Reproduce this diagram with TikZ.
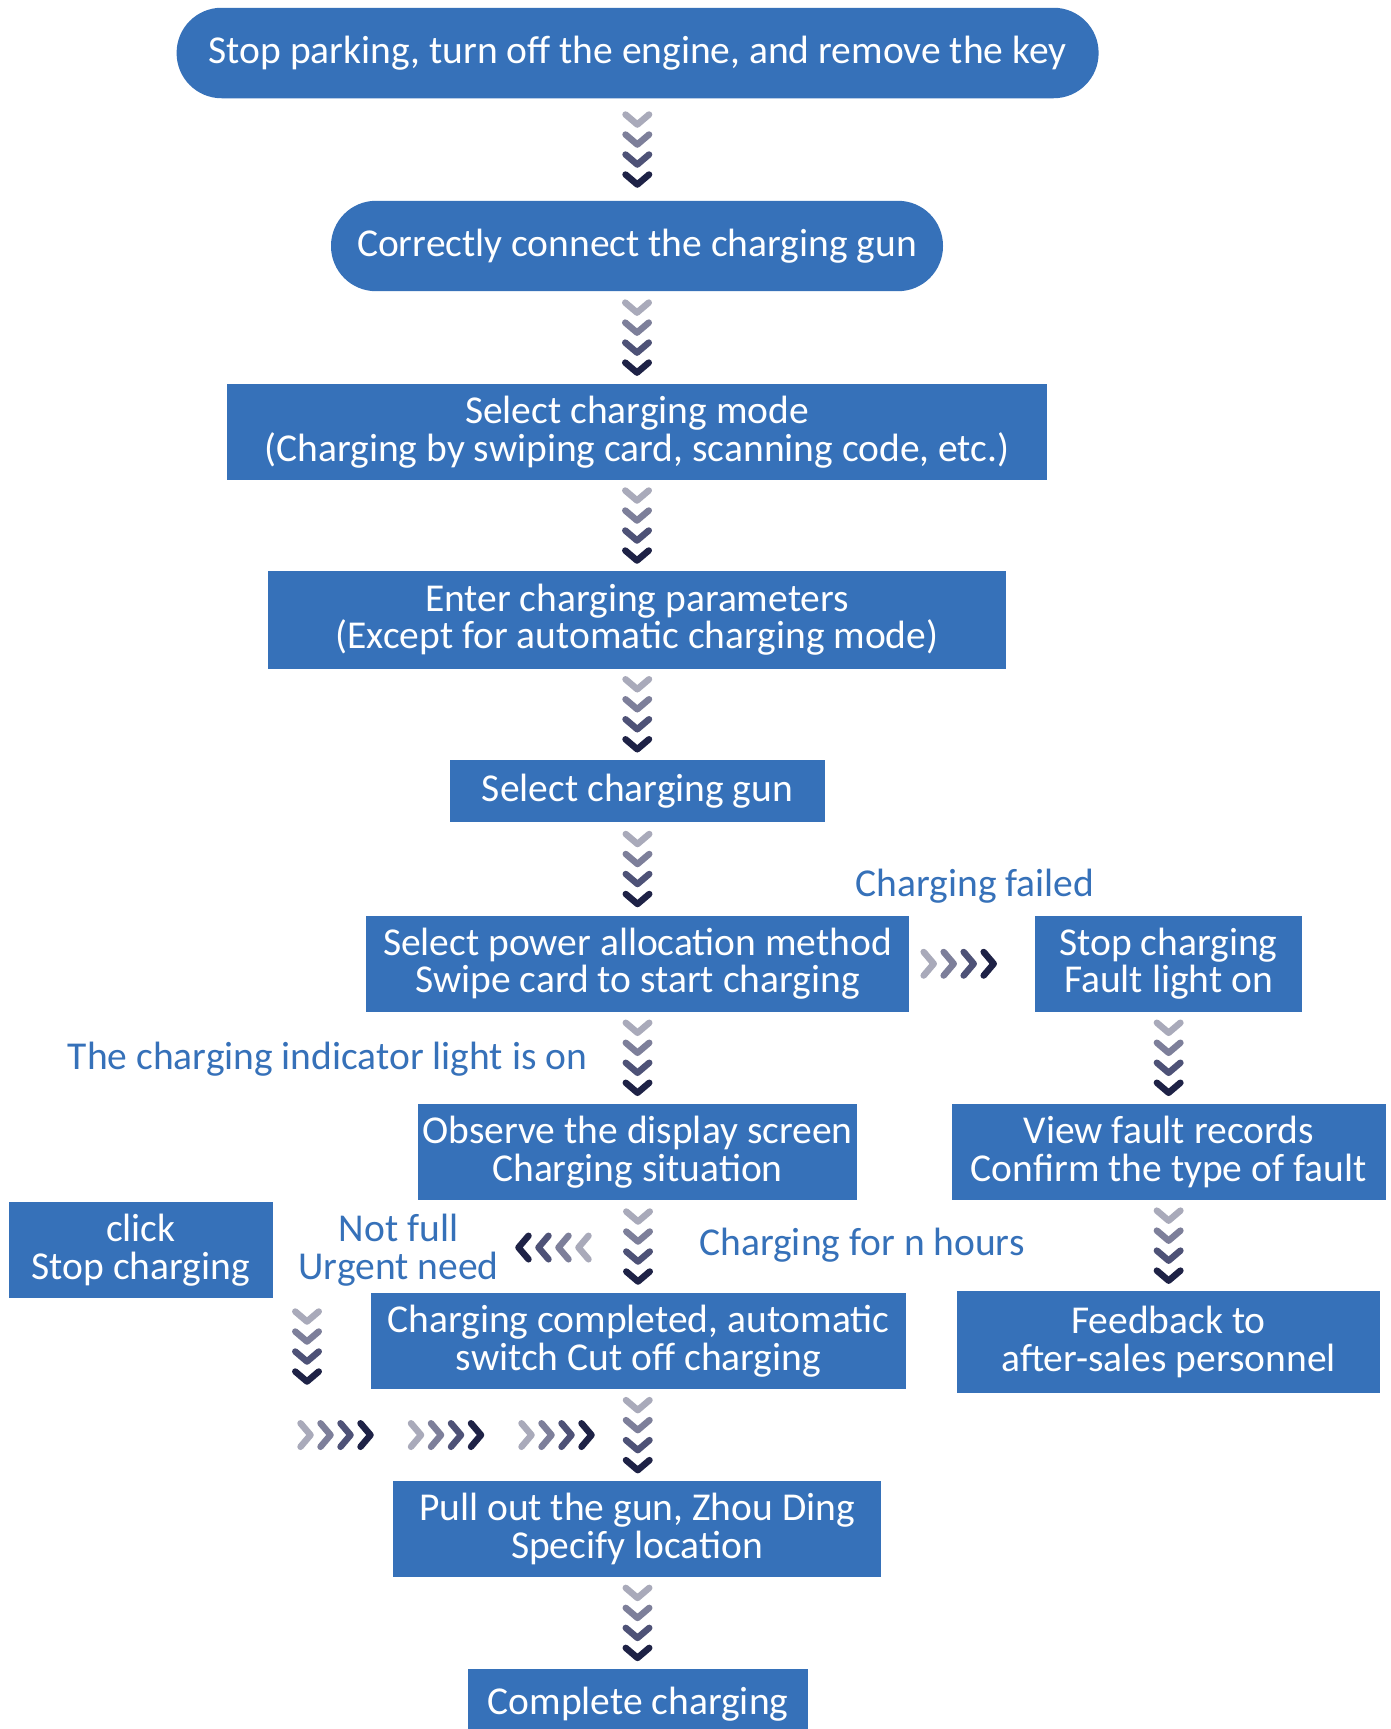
\documentclass[tikz,border=0pt]{standalone}
\usepackage{fontspec}
\setmainfont{Carlito}
\usetikzlibrary{calc}
\definecolor{boxblue}{HTML}{3671B9}
\definecolor{chA}{HTML}{A9AABA}
\definecolor{chB}{HTML}{7D7F9A}
\definecolor{chC}{HTML}{4E5277}
\definecolor{chD}{HTML}{1E2246}
\begin{document}
\begin{tikzpicture}[x=1pt,y=-1pt,
  every node/.style={font=\fontsize{39.5pt}{37.5pt}\selectfont},
  stepbox/.style n args={2}{fill=boxblue,text=white,align=center,inner sep=0pt,minimum width=#1pt,minimum height=#2pt},
  lbl/.style={text=boxblue,align=center,inner sep=0pt},
  chevline/.style={line width=6.5pt,line cap=round,line join=round},
  pics/downchev/.style={code={
    \draw[chevline,chA] (-11.75,-35)--(0,-25)--(11.75,-35);
    \draw[chevline,chB] (-11.75,-15)--(0,-5)--(11.75,-15);
    \draw[chevline,chC] (-11.75,5)--(0,15)--(11.75,5);
    \draw[chevline,chD] (-11.75,25)--(0,35)--(11.75,25);
  }},
  pics/rightchev/.style={code={
    \draw[chevline,chA] (-35,-11.75)--(-25,0)--(-35,11.75);
    \draw[chevline,chB] (-15,-11.75)--(-5,0)--(-15,11.75);
    \draw[chevline,chC] (5,-11.75)--(15,0)--(5,11.75);
    \draw[chevline,chD] (25,-11.75)--(35,0)--(25,11.75);
  }},
  pics/leftchev/.style={code={
    \draw[chevline,chD] (-25,-11.75)--(-35,0)--(-25,11.75);
    \draw[chevline,chC] (-5,-11.75)--(-15,0)--(-5,11.75);
    \draw[chevline,chB] (15,-11.75)--(5,0)--(15,11.75);
    \draw[chevline,chA] (35,-11.75)--(25,0)--(35,11.75);
  }}
]
\useasboundingbox[fill=white] (0,0) rectangle (1391,1729);

% main column
\node[stepbox={922}{90.5},rounded corners=45pt] (n1) at (637.6,53) {Stop parking, turn off the engine, and remove the key};
\node[stepbox={612}{90.4},rounded corners=45pt] (n2) at (637,246) {Correctly connect the charging gun};
\node[stepbox={820}{96}] (n3) at (637,432) {Select charging mode\\(Charging by swiping card, scanning code, etc.)};
\node[stepbox={738}{97.5}] (n4) at (637,619.75) {Enter charging parameters\\(Except for automatic charging mode)};
\node[stepbox={375}{62}] (n5) at (637.5,791) {Select charging gun};
\node[stepbox={543}{95.5}] (n6) at (637.5,963.75) {Select power allocation method\\Swipe card to start charging};
\node[stepbox={439}{96}] (n8) at (637.5,1152) {Observe the display screen\\Charging situation};
\node[stepbox={535}{96}] (n11) at (638.5,1341) {Charging completed, automatic\\switch Cut off charging};
\node[stepbox={488}{95.5}] (n13) at (637,1529) {Pull out the gun, Zhou Ding\\Specify location};
\node[stepbox={340}{70}] (n14) at (638,1704) {Complete charging};

% right column
\node[stepbox={267}{95.5}] (n7) at (1168.5,963.75) {Stop charging\\Fault light on};
\node[stepbox={433.5}{96}] (n9) at (1168.75,1152) {View fault records\\Confirm the type of fault};
\node[stepbox={423}{101.5}] (n12) at (1168.5,1342) {Feedback to\\after-sales personnel};

% left
\node[stepbox={263.5}{96}] (n10) at (140.75,1250) {click\\Stop charging};

% labels
\node[lbl] (l1) at (975,886) {Charging failed};
\node[lbl] (l2) at (327.5,1059) {The charging indicator light is on};
\node[lbl] (l3) at (398.5,1250) {Not full\\Urgent need};
\node[lbl] (l4) at (862,1245) {Charging for n hours};

% chevron connectors
\pic at ($(n1.south)!0.5!(n2.north)$) {downchev};
\pic at ($(n2.south)!0.5!(n3.north)$) {downchev};
\pic at ($(n3.south)!0.5!(n4.north)$) {downchev};
\pic at ($(n4.south)!0.5!(n5.north)$) {downchev};
\pic at ($(n5.south)!0.5!(n6.north)$) {downchev};
\pic at ($(n6.south)!0.5!(n8.north)$) {downchev};
\pic at ($(n8.south)!0.5!(n11.north)$) {downchev};
\pic at ($(n11.south)!0.5!(n13.north)$) {downchev};
\pic at ($(n13.south)!0.5!(n14.north)$) {downchev};
\pic at ($(n7.south)!0.5!(n9.north)$) {downchev};
\pic at ($(n9.south)!0.5!(n12.north)$) {downchev};
\pic at ($(n6.east)+(49.5,0)$) {rightchev};
\pic at (553.5,1247.5) {leftchev};
\coordinate (lstack) at (307,1346.5);
\pic at (lstack) {downchev};
\pic at (335.5,1435) {rightchev};
\pic at (446,1435) {rightchev};
\pic at (556.5,1435) {rightchev};
\end{tikzpicture}
\end{document}
